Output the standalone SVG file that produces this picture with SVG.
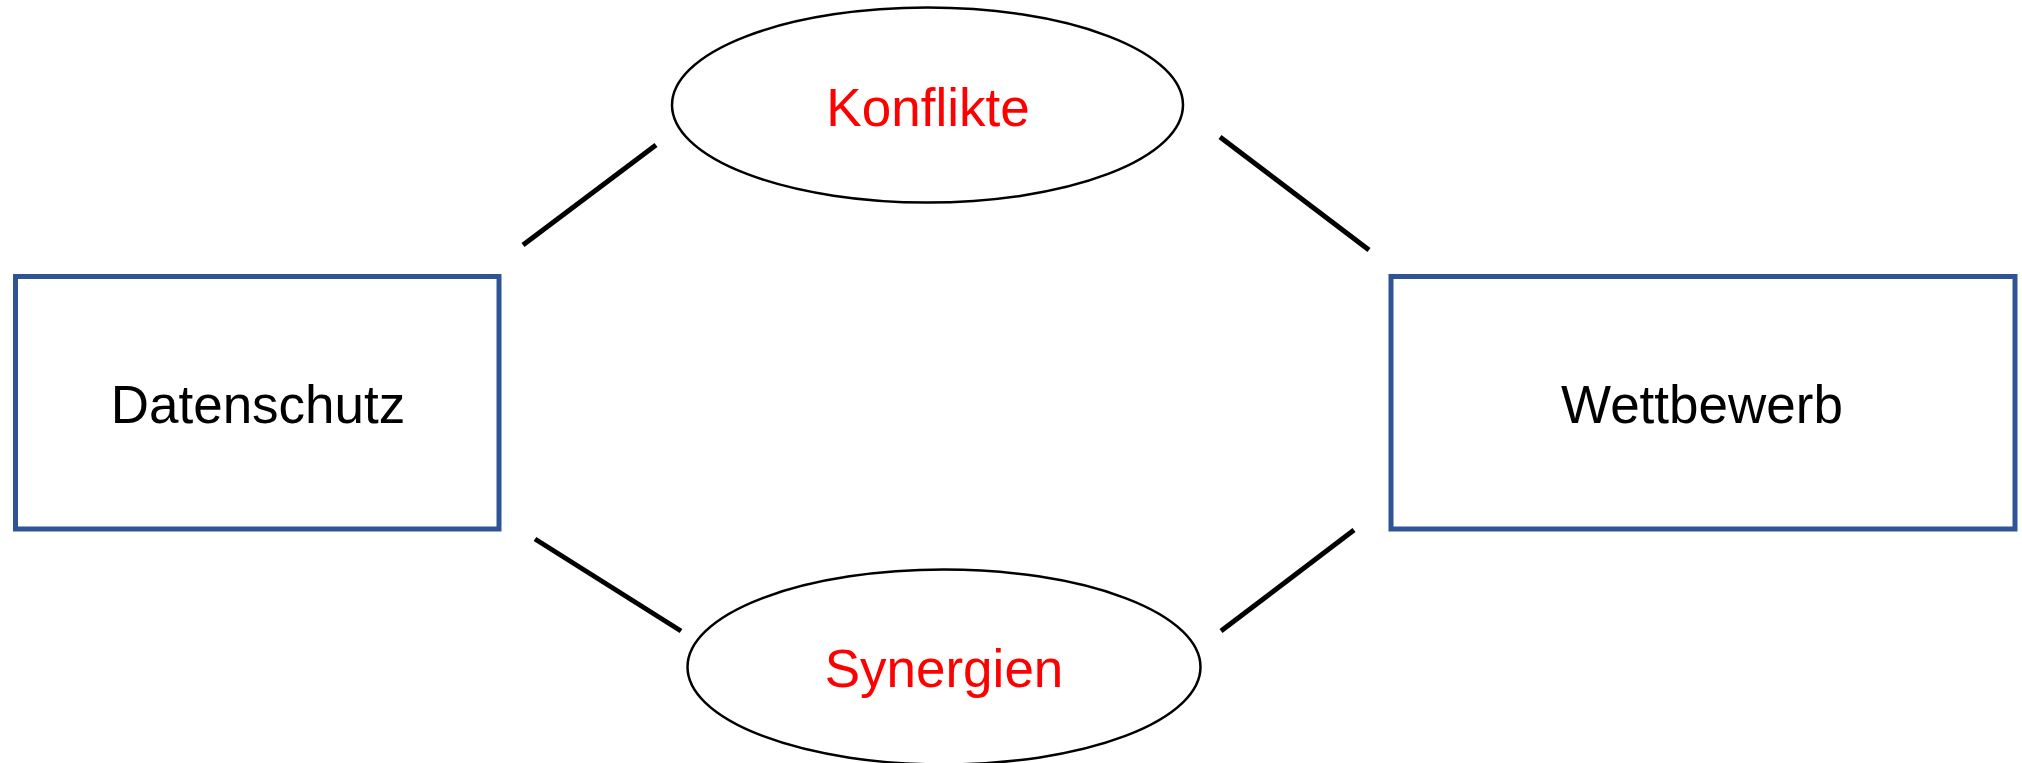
<svg xmlns="http://www.w3.org/2000/svg" width="2022" height="763" viewBox="0 0 2022 763">
<style>
.box{fill:#fff;stroke:#2f5496;stroke-width:5}
.ell{fill:#fff;stroke:#000;stroke-width:2.5}
.lbl{font-family:"Liberation Sans",Arial,sans-serif;font-size:53px;text-anchor:middle}
.blk{fill:#000}
.red{fill:#ff0000}
.conn{stroke:#000;stroke-width:5;fill:none}
</style>
<rect width="2022" height="763" fill="#fff"/>
<g id="connectors">
<line class="conn" x1="523" y1="245" x2="656" y2="145"/>
<line class="conn" x1="1220" y1="137" x2="1369" y2="250"/>
<line class="conn" x1="535" y1="539" x2="681" y2="631"/>
<line class="conn" x1="1221" y1="631" x2="1354" y2="530"/>
</g>
<g id="datenschutz">
<rect class="box" x="15.5" y="276.5" width="483.5" height="252.5"/>
<text class="lbl blk" x="258" y="423">Datenschutz</text>
</g>
<g id="wettbewerb">
<rect class="box" x="1391" y="276.5" width="624" height="252.5"/>
<text class="lbl blk" x="1702" y="423">Wettbewerb</text>
</g>
<g id="konflikte">
<ellipse class="ell" cx="927.5" cy="105" rx="255.5" ry="97.5"/>
<text class="lbl red" x="928" y="126">Konflikte</text>
</g>
<g id="synergien">
<ellipse class="ell" cx="944" cy="667" rx="256.5" ry="97.5"/>
<text class="lbl red" x="944" y="687">Synergien</text>
</g>
</svg>
